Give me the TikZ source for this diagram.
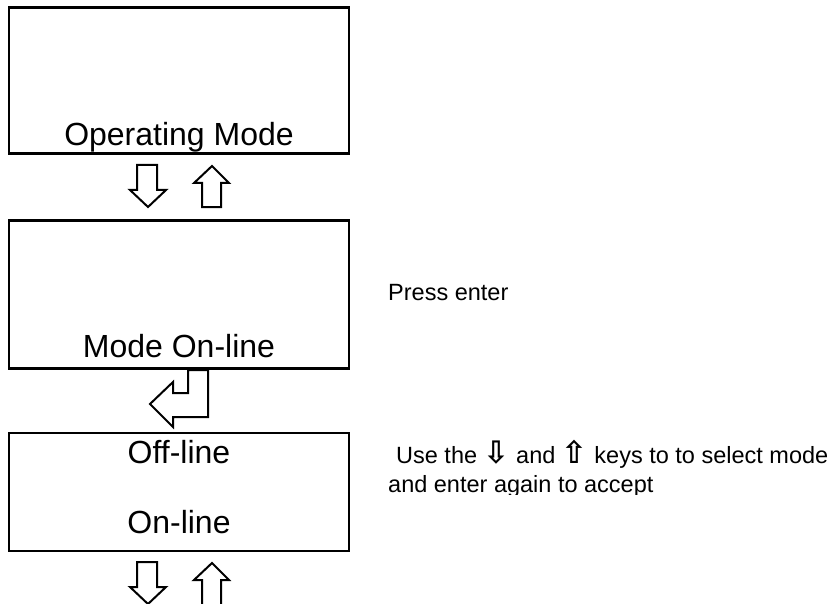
\documentclass[tikz,border=0pt]{standalone}
\usepackage{fontspec}
\setmainfont{Liberation Sans}
\newfontfamily\symfont{DejaVu Sans}
\newcommand{\keysym}[1]{{\symfont\bfseries\fontsize{31}{31}\selectfont #1}}
\begin{document}
\begin{tikzpicture}[x=1pt,y=-1pt,
  box/.style={draw,line width=2.5pt,minimum width=340pt,inner sep=0pt,outer sep=0pt},
  big/.style={font=\fontsize{32}{38}\selectfont,anchor=base,inner sep=0pt},
  note/.style={font=\fontsize{23.5}{28}\selectfont,anchor=base west,inner sep=0pt},
  keyarrow/.style={draw,line width=2pt,line join=miter,fill=white}]
\useasboundingbox (0,0) rectangle (840,604);
\clip (0,0) rectangle (840,604);
% boxes
\node[box,minimum height=146pt] (b1) at (179,80.5) {};
\node[box,minimum height=148pt] (b2) at (179,294.5) {};
\node[box,minimum height=118pt] (b3) at (179,492) {};
% box texts
\node[big] (t1) at (179,146) {Operating Mode};
\node[big] (t2) at (179,357) {Mode On-line};
\node[big] (t3) at (179,463) {Off-line};
\node[big] (t4) at (179,533) {On-line};
% key arrows between box 1 and box 2
\draw[keyarrow] (137,165) -- (157,165) -- (157,190) -- (166,190) -- (148,207) -- (130,190) -- (137,190) -- cycle;
\draw[keyarrow] (202,207) -- (221,207) -- (221,183) -- (229,183) -- (212,166) -- (194,183) -- (202,183) -- cycle;
% enter arrow
\draw[keyarrow] (188,370) -- (208,370) -- (208,417) -- (173,417) -- (173,427) -- (150,404) -- (173,382) -- (173,393) -- (188,393) -- cycle;
% key arrows below box 3
\draw[keyarrow] (137,562) -- (157,562) -- (157,587) -- (166,587) -- (148,604) -- (130,587) -- (137,587) -- cycle;
\draw[keyarrow] (202,610) -- (221,610) -- (221,580) -- (229,580) -- (212,563) -- (194,580) -- (202,580) -- cycle;
% notes
\node[note] (n1) at (388,300) {Press enter};
\node[note] (n2) at (396,463) {Use the \keysym{⇩} and \keysym{⇧} keys to to select mode};
\begin{scope}
\clip (380,470) rectangle (840,494);
\node[note] (n3) at (388,492) {and enter again to accept};
\end{scope}
\end{tikzpicture}
\end{document}
